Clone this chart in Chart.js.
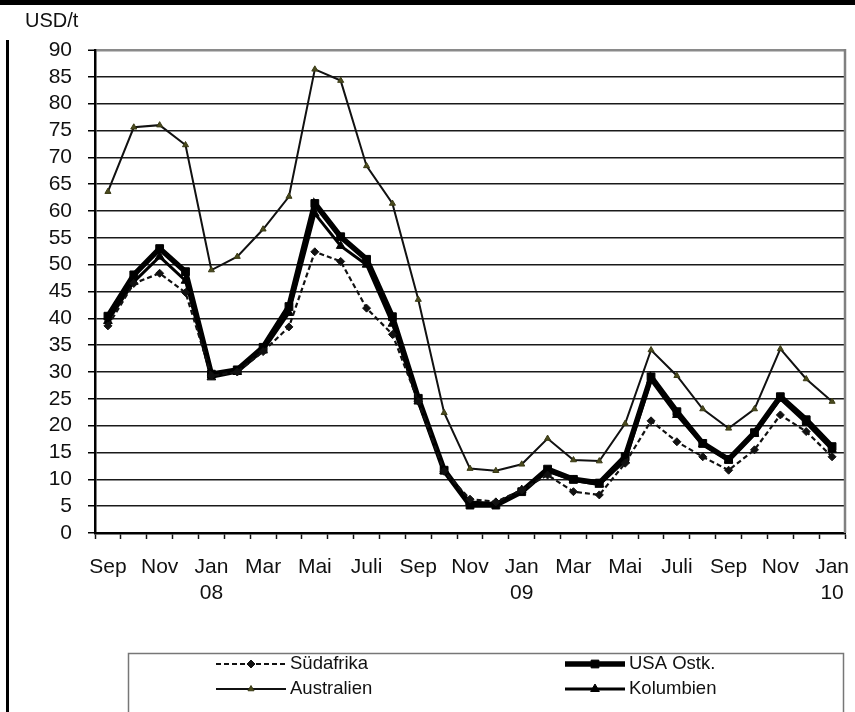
<!DOCTYPE html>
<html><head><meta charset="utf-8">
<script src="https://cdn.jsdelivr.net/npm/chart.js@4.4.0/dist/chart.umd.min.js"></script>
<style>html,body{margin:0;padding:0;background:#fff}#wrap{width:855px;height:712px;position:relative}</style>
</head><body><div id="wrap"><canvas id="c" width="855" height="712"></canvas></div>
<script>
const categories = ['Sep 07','Okt 07','Nov 07','Dez 07','Jan 08','Feb 08','Mrz 08','Apr 08','Mai 08','Jun 08','Jul 08','Aug 08','Sep 08','Okt 08','Nov 08','Dez 08','Jan 09','Feb 09','Mrz 09','Apr 09','Mai 09','Jun 09','Jul 09','Aug 09','Sep 09','Okt 09','Nov 09','Dez 09','Jan 10'];
const tickLabels = ['Sep','','Nov','',['Jan','08'],'','Mar','','Mai','','Juli','','Sep','','Nov','',['Jan','09'],'','Mar','','Mai','','Juli','','Sep','','Nov','',['Jan','10']];
const suedafrika = [38.6,46.5,48.4,44.8,29.3,30.0,33.8,38.4,52.4,50.6,41.9,37.0,24.5,11.5,6.3,5.8,8.0,10.8,7.7,7.1,13.0,20.9,17.0,14.2,11.7,15.5,22.0,18.9,14.2];
const usaOstk = [40.4,48.1,53.0,48.7,29.6,30.4,34.6,42.2,61.4,55.2,51.0,40.3,25.1,11.7,5.2,5.2,7.7,11.9,10.0,9.3,14.2,29.1,22.6,16.7,13.7,18.7,25.4,21.1,16.1];
const australien = [63.6,75.6,76.0,72.3,49.0,51.5,56.6,62.7,86.4,84.3,68.4,61.4,43.5,22.4,12.0,11.6,12.8,17.6,13.6,13.4,20.4,34.1,29.3,23.1,19.5,23.1,34.3,28.7,24.5];
const kolumbien = [39.5,46.8,51.5,47.0,29.0,30.0,34.0,41.0,59.5,53.5,50.0,39.0,24.5,11.5,5.8,5.5,8.0,11.5,9.8,9.0,13.5,28.5,22.0,16.5,13.5,18.5,25.0,20.5,15.5];
const seriesNames = ['Südafrika','USA Ostk.','Australien','Kolumbien'];
const yMin = 0, yMax = 90, yStep = 5;
const unitLabel = 'USD/t';

const FONT = "'Liberation Sans', Arial, sans-serif";

const decor = {
  id: 'decor',
  afterDraw(chart) {
    const ctx = chart.ctx, a = chart.chartArea;
    ctx.save();
    ctx.fillStyle = '#000';
    ctx.fillRect(0, 0, 855, 5);
    ctx.fillRect(6, 40, 3, 672);
    ctx.fillStyle = '#111';
    ctx.font = '20px ' + FONT;
    ctx.textBaseline = 'middle';
    ctx.textAlign = 'left';
    ctx.fillText(unitLabel, 25, 21);
    ctx.strokeStyle = '#808080';
    ctx.lineWidth = 2.5;
    ctx.beginPath();
    ctx.moveTo(a.right, a.top - 1);
    ctx.lineTo(a.right, a.bottom);
    ctx.stroke();
    ctx.strokeStyle = '#777';
    ctx.lineWidth = 1.5;
    ctx.strokeRect(128.5, 653.5, 715, 80);
    const cols = [[216, 286], [565, 625]];
    const rows = [664, 689];
    chart.data.datasets.forEach((ds, i) => {
      const col = cols[i % 2], y = rows[Math.floor(i / 2)];
      ctx.save();
      ctx.strokeStyle = ds.borderColor;
      ctx.lineWidth = ds.borderWidth;
      ctx.setLineDash(ds.borderDash || []);
      ctx.beginPath();
      ctx.moveTo(col[0], y);
      ctx.lineTo(col[1], y);
      ctx.stroke();
      ctx.setLineDash([]);
      ctx.fillStyle = ds.pointBackgroundColor;
      ctx.strokeStyle = ds.pointBorderColor;
      ctx.lineWidth = ds.pointBorderWidth;
      Chart.helpers.drawPoint(ctx, {pointStyle: ds.pointStyle, radius: ds.pointRadius, rotation: 0, borderWidth: ds.pointBorderWidth}, (col[0] + col[1]) / 2, y);
      ctx.fillStyle = '#111';
      ctx.font = '18.5px ' + FONT;
      ctx.textBaseline = 'middle';
      ctx.textAlign = 'left';
      ctx.fillText(ds.label, col[1] + 4, y);
      ctx.restore();
    });
    ctx.restore();
  }
};

new Chart(document.getElementById('c'), {
  type: 'line',
  data: {
    labels: categories,
    datasets: [
      {label: seriesNames[0], data: suedafrika, borderColor: '#111', borderWidth: 2.2, borderDash: [5, 3],
       pointStyle: 'rectRot', pointRadius: 4, pointBackgroundColor: '#111', pointBorderColor: '#111', pointBorderWidth: 1, tension: 0},
      {label: seriesNames[1], data: usaOstk, borderColor: '#000', borderWidth: 5.5,
       pointStyle: 'rect', pointRadius: 5.5, pointBackgroundColor: '#000', pointBorderColor: '#000', pointBorderWidth: 1, tension: 0},
      {label: seriesNames[2], data: australien, borderColor: '#111', borderWidth: 2,
       pointStyle: 'triangle', pointRadius: 3.5, pointBackgroundColor: '#4b4b1e', pointBorderColor: '#3a3a15', pointBorderWidth: 1, tension: 0},
      {label: seriesNames[3], data: kolumbien, borderColor: '#000', borderWidth: 3,
       pointStyle: 'triangle', pointRadius: 5, pointBackgroundColor: '#000', pointBorderColor: '#000', pointBorderWidth: 1, tension: 0}
    ]
  },
  options: {
    responsive: false,
    animation: false,
    devicePixelRatio: 1,
    layout: {padding: {left: 0, right: 10, top: 50, bottom: 0}},
    plugins: {legend: {display: false}, tooltip: {enabled: false}},
    scales: {
      x: {
        type: 'category',
        offset: true,
        grid: {offset: true, drawOnChartArea: false, drawTicks: true, tickLength: 6, tickColor: '#111', tickWidth: 1.5},
        border: {color: '#000', width: 2.5},
        ticks: {autoSkip: false, maxRotation: 0, minRotation: 0, padding: 16, color: '#111',
                font: {family: FONT, size: 21, lineHeight: 1.2},
                callback: (v, i) => tickLabels[i]},
        afterFit(s) { s.height = 179; s.paddingRight = 0; s.paddingLeft = 0; }
      },
      y: {
        min: yMin, max: yMax,
        ticks: {stepSize: yStep, autoSkip: false, padding: 16, color: '#111', font: {family: FONT, size: 21}},
        grid: {color: c => (c.tick && c.tick.value === yMax) ? '#8a8a8a' : '#1a1a1a',
               lineWidth: c => (c.tick && c.tick.value === yMax) ? 2.5 : 1.5,
               tickLength: 7, tickColor: '#000', tickWidth: 1.5},
        border: {color: '#000', width: 2.5},
        afterFit(s) { s.width = 95; s.paddingTop = 0; s.paddingBottom = 0; }
      }
    }
  },
  plugins: [decor]
});
</script>
</body></html>
